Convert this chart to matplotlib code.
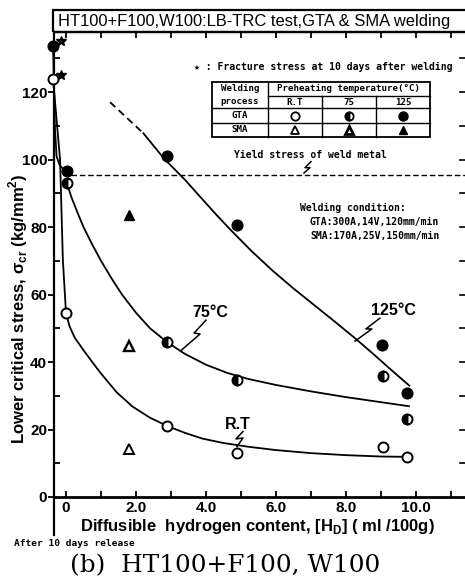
import matplotlib
matplotlib.use('Agg')
import matplotlib.pyplot as plt
from matplotlib.patches import Rectangle
from matplotlib.lines import Line2D
from matplotlib.ticker import MultipleLocator, FixedLocator, FixedFormatter

# ---------------- data ----------------
gta_rt_x = [-0.37, 0.0, 2.9, 4.9, 9.05, 9.73]
gta_rt_y = [123.8, 54.5, 20.9, 12.9, 14.8, 11.8]
gta_75_x = [0.02, 2.9, 4.9, 9.05, 9.73]
gta_75_y = [93.2, 45.8, 34.8, 35.9, 23.0]
gta_125_x = [-0.37, 0.02, 2.9, 4.9, 9.02, 9.73]
gta_125_y = [133.6, 96.5, 101.0, 80.5, 45.1, 30.9]
sma_rt_x = [1.8]
sma_rt_y = [14.1]
sma_75_x = [1.8]
sma_75_y = [44.6]
sma_125_x = [1.8]
sma_125_y = [83.5]
star_x = [-0.13, -0.13]
star_y = [135.0, 125.0]
yield_stress = 95.5

# hand-traced fitted curves
rt_steep_x = [-0.37, -0.17, -0.09, 0.0]
rt_steep_y = [123.8, 100.0, 70.3, 54.5]
hot_steep_x = [-0.37, -0.35, -0.32, -0.27, -0.18, -0.08, 0.0]
hot_steep_y = [133.6, 125.0, 110.0, 101.0, 98.3, 97.2, 96.5]
rt_curve_x = [0.0, 0.1, 0.25, 0.5, 0.75, 1.0, 1.45, 1.9, 2.4, 2.9, 3.4, 3.9, 4.5, 5.2, 6.0, 7.0, 8.0, 9.0, 9.73]
rt_curve_y = [54.5, 50.6, 47.2, 43.5, 40.0, 36.6, 31.0, 26.8, 23.5, 21.0, 19.0, 17.3, 16.0, 14.9, 13.9, 13.0, 12.4, 12.0, 11.9]
c75_curve_x = [0.02, 0.15, 0.3, 0.5, 0.75, 1.0, 1.3, 1.6, 2.0, 2.4, 2.9, 3.4, 4.0, 4.6, 5.2, 6.0, 7.0, 8.0, 9.0, 9.8]
c75_curve_y = [93.2, 89.0, 85.0, 80.0, 74.8, 70.0, 64.8, 60.0, 54.6, 50.0, 45.8, 42.4, 39.2, 36.8, 35.0, 33.2, 31.3, 29.6, 28.1, 26.9]
c125_dash_x = [1.26, 2.21]
c125_dash_y = [117.0, 107.8]
c125_curve_x = [2.21, 2.8, 3.4, 3.83, 4.3, 4.7, 5.3, 5.9, 6.5, 7.1, 7.63, 8.3, 8.8, 9.3, 9.81]
c125_curve_y = [107.8, 100.3, 94.0, 89.0, 83.6, 79.2, 72.9, 67.1, 61.8, 56.8, 52.4, 46.7, 42.2, 37.6, 33.0]

x_ticks = [0, 2, 4, 6, 8, 10]
x_ticklabels = ['0', '2.0', '4.0', '6.0', '8.0', '10.0']
y_ticks = [0, 20, 40, 60, 80, 100, 120]

# ---------------- figure ----------------
W, H = 465, 580
fig = plt.figure(figsize=(W / 100, H / 100), dpi=100)

def fx(px):
    return px / W

def fy(py):
    return 1 - py / H

ax_l, ax_r, ax_t, ax_b = 54, 466, 32, 497
ax = fig.add_axes([fx(ax_l), fy(ax_b), (ax_r - ax_l) / W, (ax_b - ax_t) / H])
ax.set_xlim(-0.343, 11.43)
ax.set_ylim(0, 137.8)

SANS = 'Liberation Sans'
MONO = 'DejaVu Sans Mono'

for s in ['left', 'bottom', 'top']:
    ax.spines[s].set_linewidth(1.6)
ax.spines['bottom'].set_linewidth(2.0)
ax.spines['right'].set_visible(False)

ax.xaxis.set_major_locator(FixedLocator(x_ticks))
ax.xaxis.set_major_formatter(FixedFormatter(x_ticklabels))
ax.xaxis.set_minor_locator(MultipleLocator(1))
ax.tick_params(axis='x', which='both', direction='in', length=4, width=1.3,
               top=True, bottom=True, pad=3)
ax.yaxis.set_major_locator(FixedLocator(y_ticks))
ax.yaxis.set_minor_locator(FixedLocator([10, 30, 50, 70, 90, 110, 130]))
ax.tick_params(axis='y', which='major', direction='out', length=4, width=1.3,
               left=True, right=False, pad=1)
ax.tick_params(axis='y', which='minor', direction='in', length=4, width=1.3,
               left=True, right=False)
for lab in ax.get_xticklabels() + ax.get_yticklabels():
    lab.set_fontfamily(SANS)
    lab.set_fontweight('bold')
    lab.set_fontsize(11)

# right-side inward ticks (spine itself is off the picture)
for yv in range(10, 140, 10):
    ax.plot([11.26, 11.43], [yv, yv], color='black', lw=1.2, clip_on=False)

lw = 1.3
# curves
ax.plot(rt_steep_x, rt_steep_y, color='black', lw=lw, clip_on=False)
ax.plot(hot_steep_x, hot_steep_y, color='black', lw=lw, clip_on=False)
ax.plot(rt_curve_x, rt_curve_y, color='black', lw=lw)
ax.plot(c75_curve_x, c75_curve_y, color='black', lw=lw)
ax.plot(c125_dash_x, c125_dash_y, color='black', lw=lw, ls=(0, (4, 2.5)))
ax.plot(c125_curve_x, c125_curve_y, color='black', lw=lw)

# yield stress line
ax.plot([0.15, 11.43], [yield_stress, yield_stress], color='black', lw=1.0,
        ls=(0, (4, 2)))

# markers
ms = 7.2
ax.plot(gta_rt_x, gta_rt_y, 'o', ms=ms, mfc='white', mec='black', mew=1.4, clip_on=False, zorder=5)
ax.plot(gta_75_x, gta_75_y, 'o', ms=ms, fillstyle='left', mfc='black', mfcalt='white',
        mec='black', mew=1.4, clip_on=False, zorder=5)
ax.plot(gta_125_x, gta_125_y, 'o', ms=ms + 0.5, mfc='black', mec='black', clip_on=False, zorder=5)
ax.plot(sma_rt_x, sma_rt_y, '^', ms=6.5, mfc='white', mec='black', mew=1.4, zorder=5)
ax.plot(sma_75_x, sma_75_y, '^', ms=6.5, mfc='white', mec='black', mew=1.7, zorder=5)
ax.plot(sma_125_x, sma_125_y, '^', ms=7, mfc='black', mec='black', zorder=5)
ax.plot(star_x, star_y, '*', ms=7, mfc='black', mec='black', clip_on=False, zorder=6)


def zig(pts):
    xs = [p[0] for p in pts]
    ys = [p[1] for p in pts]
    ax.plot(xs, ys, color='black', lw=1.1)

# label leaders (lightning marks)
zig([(3.306, 43.6), (3.83, 48.3), (3.66, 48.6), (4.0, 52.4)])
zig([(8.26, 46.2), (8.74, 49.8), (8.57, 49.8), (8.97, 53.0)])
zig([(4.886, 14.9), (5.057, 17.5), (4.857, 17.2), (5.057, 19.4)])
zig([(6.80, 96.0), (6.97, 97.6), (6.83, 97.6), (7.0, 99.4)])

lab_kw = dict(fontfamily=SANS, fontweight='bold', fontsize=11.5, ha='center', va='center')
ax.text(4.13, 54.6, '75°C', **lab_kw)
ax.text(9.36, 55.3, '125°C', **lab_kw)
ax.text(4.91, 21.4, 'R.T', **lab_kw)

mono_kw = dict(fontfamily=MONO, fontweight='bold', fontsize=7.0, va='center')
ax.text(3.66, 127.3, '★ : Fracture stress at 10 days after welding', **mono_kw)
ax.text(6.97, 101.3, 'Yield stress of weld metal', ha='center', **mono_kw)
ax.text(6.69, 85.5, 'Welding condition:', ha='left', **mono_kw)
ax.text(6.97, 81.4, 'GTA:300A,14V,120mm/min', ha='left', **mono_kw)
ax.text(6.97, 77.3, 'SMA:170A,25V,150mm/min', ha='left', **mono_kw)

# ---- table ----
tx = [4.171, 5.771, 7.314, 8.857, 10.4]
ty = [122.96, 118.96, 115.17, 110.9, 106.81]
tlw = 1.0
ax.add_patch(Rectangle((tx[0], ty[4]), tx[4] - tx[0], ty[0] - ty[4], fill=False,
                       lw=1.3, ec='black'))
ax.plot([tx[1], tx[1]], [ty[4], ty[0]], color='black', lw=tlw)
for xv in tx[2:4]:
    ax.plot([xv, xv], [ty[4], ty[1]], color='black', lw=tlw)
ax.plot([tx[1], tx[4]], [ty[1], ty[1]], color='black', lw=tlw)
for yv in ty[2:4]:
    ax.plot([tx[0], tx[4]], [yv, yv], color='black', lw=tlw)

tkw = dict(fontfamily=MONO, fontweight='bold', fontsize=6.6, ha='center', va='center')
cx0 = (tx[0] + tx[1]) / 2
ax.text(cx0, 121.0, 'Welding', **tkw)
ax.text(cx0, 117.2, 'process', **tkw)
ax.text((tx[1] + tx[4]) / 2, 121.0, 'Preheating temperature(°C)', **tkw)
col_c = [(tx[i] + tx[i + 1]) / 2 for i in range(1, 4)]
for c, t in zip(col_c, ['R.T', '75', '125']):
    ax.text(c, 117.0, t, **tkw)
gy = (ty[2] + ty[3]) / 2
sy = (ty[3] + ty[4]) / 2
ax.text(cx0, gy, 'GTA', **tkw)
ax.text(cx0, sy, 'SMA', **tkw)
ax.plot([col_c[0]], [gy], 'o', ms=6, mfc='white', mec='black', mew=1.3)
ax.plot([col_c[1]], [gy], 'o', ms=6, fillstyle='left', mfc='black', mfcalt='white', mec='black', mew=1.3)
ax.plot([col_c[2]], [gy], 'o', ms=6.5, mfc='black', mec='black')
ax.plot([col_c[0]], [sy], '^', ms=5.5, mfc='white', mec='black', mew=1.3)
ax.plot([col_c[1]], [sy], '^', ms=5.5, mfc='white', mec='black', mew=2.0)
ax.plot([col_c[2]], [sy], '^', ms=6, mfc='black', mec='black')

# ---- title box ----
fig.patches.append(Rectangle((fx(53), fy(32)), (467 - 53) / W, 22 / H, fill=False,
                             lw=1.6, ec='black', transform=fig.transFigure, figure=fig))
fig.text(fx(58), fy(21.5), 'HT100+F100,W100:LB-TRC test,GTA & SMA welding',
         fontfamily=SANS, fontsize=11.9, ha='left', va='center')

# ---- axis labels ----
fig.text(fx(257), fy(527), 'Diffusible  hydrogen content, [H$_\\mathregular{D}$] ( ml /100g)',
         fontfamily=SANS, fontweight='bold', fontsize=12, ha='center', va='center')
fig.text(fx(18), fy(309), 'Lower critical stress, σ$_\\mathregular{cr}$ (kg/mm$^\\mathregular{2}$)',
         fontfamily=SANS, fontweight='bold', fontsize=12, ha='center', va='center',
         rotation=90)

# left line extending below the axis
fig.lines.append(Line2D([fx(54), fx(54)], [fy(497), fy(535)], color='black', lw=1.6,
                        transform=fig.transFigure))
fig.text(fx(14), fy(543), 'After 10 days release', fontfamily=MONO, fontweight='bold',
         fontsize=6.8, ha='left', va='center')

fig.text(fx(70), fy(566), '(b)  HT100+F100, W100', fontfamily='DejaVu Serif',
         fontsize=17.8, ha='left', va='center')

fig.savefig('out.png', dpi=100)
